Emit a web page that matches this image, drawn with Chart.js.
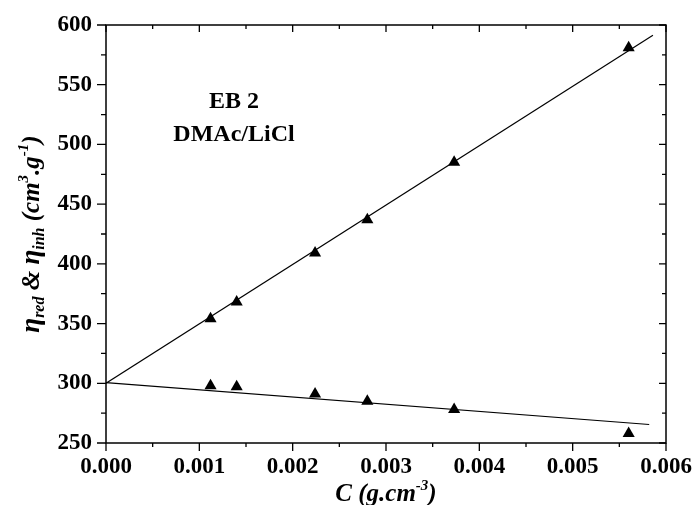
<!DOCTYPE html>
<html>
<head>
<meta charset="utf-8">
<script src="https://cdn.jsdelivr.net/npm/chart.js@4/dist/chart.umd.min.js"></script>
<style>
html,body{margin:0;padding:0;background:#fff;}
#wrap{width:693px;height:505px;position:relative;}
</style>
</head>
<body>
<div id="wrap"><canvas id="c" width="693" height="505"></canvas></div>
<script>
// ---- data ----
const concentration = [0.00112, 0.00140, 0.00224, 0.00280, 0.00373, 0.00560];
const etaRed = [354, 368, 409, 437, 485, 581];
const etaInh = [298, 297, 291, 285, 278, 258];
// fitted straight lines (end points)
const redFitX = [0, 0.00586];
const redFitY = [300, 591.5];
const inhFitX = [0, 0.00582];
const inhFitY = [300.5, 265.5];
// axes
const xTicks = [0, 0.001, 0.002, 0.003, 0.004, 0.005, 0.006];
const yTicks = [250, 300, 350, 400, 450, 500, 550, 600];
const annotationLines = ["EB 2", "DMAc/LiCl"];

const toXY = (xs, ys) => xs.map((x, i) => ({x: x, y: ys[i]}));
const SERIF = "'Liberation Serif', 'Times New Roman', serif";

const framePlugin = {
  id: 'frame',
  afterDraw(chart) {
    const ctx = chart.ctx;
    const a = chart.chartArea;
    const xs = chart.scales.x, ys = chart.scales.y;
    ctx.save();
    ctx.strokeStyle = '#000';
    ctx.lineWidth = 1.5;
    ctx.strokeRect(a.left, a.top, a.right - a.left, a.bottom - a.top);
    ctx.lineWidth = 1.3;
    ctx.beginPath();
    for (let i = 0; i < xTicks.length; i++) {
      const v = xTicks[i];
      const px = xs.getPixelForValue(v);
      ctx.moveTo(px, a.bottom); ctx.lineTo(px, a.bottom + 8);
      ctx.moveTo(px, a.top); ctx.lineTo(px, a.top + 7);
      if (i < xTicks.length - 1) {
        const m = xs.getPixelForValue((v + xTicks[i + 1]) / 2);
        ctx.moveTo(m, a.bottom); ctx.lineTo(m, a.bottom + 4);
        ctx.moveTo(m, a.top); ctx.lineTo(m, a.top + 4);
      }
    }
    for (let i = 0; i < yTicks.length; i++) {
      const v = yTicks[i];
      const py = ys.getPixelForValue(v);
      ctx.moveTo(a.left, py); ctx.lineTo(a.left - 9, py);
      ctx.moveTo(a.right, py); ctx.lineTo(a.right - 7, py);
      if (i < yTicks.length - 1) {
        const m = ys.getPixelForValue((v + yTicks[i + 1]) / 2);
        ctx.moveTo(a.left, m); ctx.lineTo(a.left - 5, m);
        ctx.moveTo(a.right, m); ctx.lineTo(a.right - 4, m);
      }
    }
    ctx.stroke();

    ctx.fillStyle = '#000';
    ctx.textAlign = 'center';
    ctx.textBaseline = 'alphabetic';
    ctx.font = 'bold 24px ' + SERIF;
    ctx.fillText(annotationLines[0], 234, 108);
    ctx.fillText(annotationLines[1], 234, 141);

    const cx = (a.left + a.right) / 2;
    drawRich(ctx, [
      {t: 'C (g.cm', s: 25},
      {t: '-3', s: 15, dy: -11},
      {t: ')', s: 25}
    ], cx, 501, 0);

    const cy = (a.top + a.bottom) / 2;
    drawRich(ctx, [
      {t: 'η', s: 27},
      {t: 'red', s: 16, dy: 5},
      {t: ' & ', s: 25},
      {t: 'η', s: 27},
      {t: 'inh', s: 16, dy: 5},
      {t: ' (cm', s: 25},
      {t: '3', s: 15, dy: -11},
      {t: '.g', s: 25},
      {t: '-1', s: 15, dy: -11},
      {t: ')', s: 25}
    ], 39, cy, -Math.PI / 2);
    ctx.restore();
  }
};

function drawRich(ctx, parts, cx, cy, rot) {
  ctx.save();
  ctx.translate(cx, cy);
  ctx.rotate(rot);
  ctx.textAlign = 'left';
  ctx.textBaseline = 'alphabetic';
  let total = 0;
  parts.forEach(p => { ctx.font = 'italic bold ' + p.s + 'px ' + SERIF; p.w = ctx.measureText(p.t).width; total += p.w; });
  let x = -total / 2;
  parts.forEach(p => {
    ctx.font = 'italic bold ' + p.s + 'px ' + SERIF;
    ctx.fillText(p.t, x, p.dy || 0);
    x += p.w;
  });
  ctx.restore();
}

const tickFont = {family: SERIF, size: 23, weight: 'bold'};

new Chart(document.getElementById('c'), {
  type: 'scatter',
  data: {
    datasets: [
      {label: 'η red', data: toXY(concentration, etaRed), pointStyle: 'triangle', pointRadius: 7, backgroundColor: '#000', borderColor: '#000', borderWidth: 0, showLine: false},
      {label: 'η inh', data: toXY(concentration, etaInh), pointStyle: 'triangle', pointRadius: 7, backgroundColor: '#000', borderColor: '#000', borderWidth: 0, showLine: false},
      {label: 'fit red', data: toXY(redFitX, redFitY), showLine: true, pointRadius: 0, borderColor: '#000', borderWidth: 1.2, fill: false},
      {label: 'fit inh', data: toXY(inhFitX, inhFitY), showLine: true, pointRadius: 0, borderColor: '#000', borderWidth: 1.2, fill: false}
    ]
  },
  options: {
    responsive: false,
    animation: false,
    events: [],
    layout: {padding: {left: 0, right: 27, top: 25, bottom: 0}},
    plugins: {legend: {display: false}, tooltip: {enabled: false}},
    scales: {
      x: {
        type: 'linear', min: 0, max: 0.006,
        grid: {display: false, drawTicks: false},
        border: {display: false},
        ticks: {
          stepSize: 0.001, color: '#000', font: tickFont, padding: 10, maxRotation: 0,
          callback: v => v.toFixed(3)
        },
        afterFit(s) { s.height = 62; s.paddingLeft = 0; s.paddingRight = 0; },
        afterBuildTicks(s) { s.ticks = xTicks.map(v => ({value: v})); }
      },
      y: {
        type: 'linear', min: 250, max: 600,
        grid: {display: false, drawTicks: false},
        border: {display: false},
        ticks: {stepSize: 50, color: '#000', font: tickFont, padding: 14},
        afterFit(s) { s.width = 106; s.paddingTop = 0; s.paddingBottom = 0; },
        afterBuildTicks(s) { s.ticks = yTicks.map(v => ({value: v})); }
      }
    }
  },
  plugins: [framePlugin]
});
</script>
</body>
</html>
